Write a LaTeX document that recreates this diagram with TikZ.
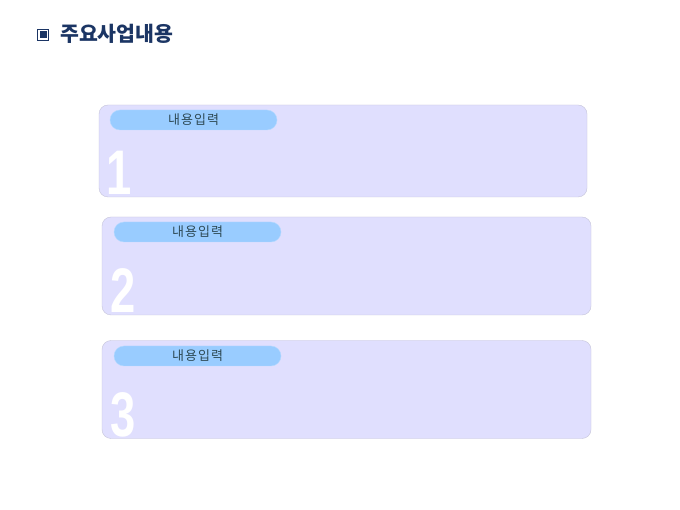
\documentclass[tikz,border=0pt]{standalone}
\usepackage{fontspec}
\usepackage{tikz}
\newfontfamily\kr{Noto Sans CJK KR}
\newfontfamily\krwide[LetterSpace=8]{Noto Sans CJK KR}
\newfontfamily\numfont{Liberation Sans}
\definecolor{navy}{HTML}{1B3564}
\definecolor{boxfill}{HTML}{E0DFFE}
\definecolor{boxline}{HTML}{C6C5DA}
\definecolor{pillfill}{HTML}{99CCFF}
\definecolor{pillline}{HTML}{B3D9FF}
\definecolor{pilltext}{HTML}{2E4A55}

\begin{document}
\begin{tikzpicture}[x=1pt,y=-1pt]
\def\cBox{boxfill}
\def\cPill{pillfill}
\def\w{489pt}
\def\h{98pt}
\useasboundingbox[fill=white] (0,0) rectangle (680,510);
% title
\node[draw=navy, line width=1pt, minimum size=11pt, inner sep=0pt] (icon) at (43,35) {};
\fill[navy] (icon.center) +(-3.5,-3.5) rectangle +(3.5,3.5);
\node[anchor=west, inner sep=0pt, text=navy, font=\kr\bfseries\fontsize{20.5}{22}\selectfont] (title) at (60,34) {주요사업내용};
% boxes
\node[draw=boxline, fill=\cBox, rounded corners=9pt, minimum width=488pt, minimum height=92pt] (box1) at (343,151) {};
\node[draw=boxline, fill=\cBox, rounded corners=9pt, minimum width=\w, minimum height=\h] (box2) at (346.5,266) {};
\node[draw=boxline, fill=\cBox, rounded corners=9pt, minimum width=\w, minimum height=\h] (box3) at (346.5,389.5) {};
% labels
\node[draw=pillline, fill=\cPill, rounded corners=10pt, minimum width=167pt, minimum height=20pt, inner sep=0pt, text=pilltext, font=\krwide\fontsize{13}{14}\selectfont] (pill1) at (193.5,120) {\raisebox{-1pt}{내용입력}};
\node[draw=pillline, fill=\cPill, rounded corners=10pt, minimum width=167pt, minimum height=20pt, inner sep=0pt, text=pilltext, font=\krwide\fontsize{13}{14}\selectfont] (pill2) at (197.5,232) {\raisebox{-1pt}{내용입력}};
\node[draw=pillline, fill=\cPill, rounded corners=10pt, minimum width=167pt, minimum height=20pt, inner sep=0pt, text=pilltext, font=\krwide\fontsize{13}{14}\selectfont] (pill3) at (197.5,356) {\raisebox{-1pt}{내용입력}};
% numbers
\node[anchor=base west, inner sep=0pt, text=white, xscale=0.72, font=\numfont\bfseries\fontsize{63}{63}\selectfont] (num1) at (106,195) {1};
\node[anchor=base west, inner sep=0pt, text=white, xscale=0.72, font=\numfont\bfseries\fontsize{63}{63}\selectfont] (num2) at (110,313) {2};
\node[anchor=base west, inner sep=0pt, text=white, xscale=0.72, font=\numfont\bfseries\fontsize{63}{63}\selectfont] (num3) at (110,436) {3};
\end{tikzpicture}
\end{document}
